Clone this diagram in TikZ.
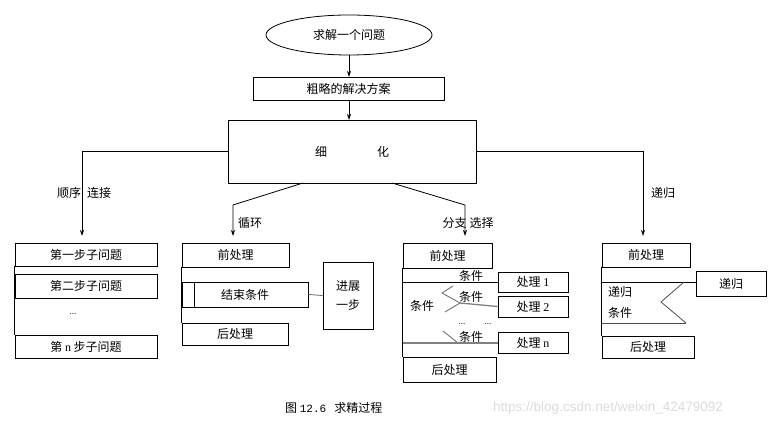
\documentclass[tikz,border=0pt]{standalone}
\usepackage{fontspec}
\setmainfont{Liberation Serif}
\newfontfamily\cjk{Noto Sans CJK SC}
\newfontfamily\wmfont{Liberation Sans}
\newfontfamily\capmono{Liberation Mono}
\usetikzlibrary{arrows.meta,shapes.geometric}
\begin{document}
\begin{tikzpicture}[x=1pt,y=-1pt,
  every node/.style={font=\cjk\fontsize{12}{15}\selectfont, inner sep=0pt},
  box/.style={draw, rectangle, line width=0.8pt},
  ln/.style={line width=0.8pt},
  gln/.style={line width=1.3pt, draw=black!50},
  arr/.style={line width=0.8pt, -{Stealth[length=6pt,width=4pt]}},
]
\useasboundingbox (0,0) rectangle (773,430);

% top
\node[draw, ellipse, line width=0.8pt, minimum width=166pt, minimum height=40pt] (prob) at (349,35) {求解一个问题};
\node[box, minimum width=191pt, minimum height=23pt] (plan) at (348.5,88.5) {粗略的解决方案};
\node[box, minimum width=248pt, minimum height=63pt] (refine) at (352,151.5) {细\hspace{50pt}化};
\coordinate (c1) at (349,55);
\coordinate (c2) at (349,77);
\coordinate (c3) at (349,100);
\coordinate (c4) at (349,120);
\draw[arr] (c1) -- (c2);
\draw[arr] (c3) -- (c4);

% branch arrows
\coordinate (seqtip) at (82,236);
\coordinate (loopA) at (303,183);
\coordinate (loopB) at (233,205);
\coordinate (looptip) at (233,236);
\coordinate (brA) at (392,183);
\coordinate (brB) at (465,205);
\coordinate (brtip) at (465,236);
\coordinate (rectip) at (643,236);
\draw[arr] (refine.west) -| (seqtip);
\draw[arr] (refine.east) -| (rectip);
\draw[arr] (loopA) -- (loopB) -- (looptip);
\draw[arr] (brA) -- (brB) -- (brtip);
\node (lseq) at (84,193) {顺序\hspace{6pt}连接};
\node (lrec) at (663,193) {递归};
\node (lloop) at (250,223) {循环};
\node (lbr) at (468,223) {分支\hspace{3pt}选择};

% sequence
\node[box, minimum width=142pt, minimum height=23pt] (s1) at (86,254.5) {第一步子问题};
\node[box, minimum width=142pt, minimum height=24pt] (s2) at (86,286) {第二步子问题};
\node (sdots) at (73,314) {{\rmfamily\fontsize{9}{10}\selectfont ...}};
\node[box, minimum width=142pt, minimum height=23pt] (sn) at (86,346.5) {第 {\rmfamily n} 步子问题};
\draw[ln] (s1.south west) -- (sn.north west);

% loop
\node[box, minimum width=107pt, minimum height=24pt] (lpre) at (235.5,255) {前处理};
\node[box, minimum width=126pt, minimum height=25pt] (lcond) at (245,294.5) {结束条件};
\node[box, minimum width=50pt, minimum height=67pt, align=center] (lstep) at (348,295.5) {进展\\[4pt]一步};
\node[box, minimum width=106pt, minimum height=22pt] (lpost) at (235,334) {后处理};
\coordinate (lin1) at (194,282);
\coordinate (lin2) at (194,307);
\draw[ln] (lin1) -- (lin2);
\draw[ln] (lpre.south west) -- (lpost.north west);
\draw[ln, draw=black!60] (lcond.east) -- (lstep.west);

% branch
\node[box, minimum width=89pt, minimum height=25pt] (bpre) at (447.5,255.5) {前处理};
\node[box, minimum width=70pt, minimum height=20pt] (bp1) at (533,282) {处理 {\rmfamily 1}};
\node[box, minimum width=70pt, minimum height=21pt] (bp2) at (533,306.5) {处理 {\rmfamily 2}};
\node[box, minimum width=70pt, minimum height=21pt] (bpn) at (533,342.5) {处理 {\rmfamily n}};
\node[box, minimum width=93pt, minimum height=25pt] (bpost) at (449.5,369.5) {后处理};
\draw[ln] (bpre.south west) -- (bpost.north west);
\coordinate (bt) at (403,282);
\draw[ln] (bt) -- (bp1.west);
\coordinate (bA) at (442,293);
\coordinate (bAu) at (453,286);
\coordinate (bB) at (460,303);
\coordinate (bC) at (445,312);
\draw[ln, draw=black!60] (bAu) -- (bA) -- (bB) -- (bC);
\draw[gln] (bB) -- (bp2.west);
\coordinate (bD) at (443,331);
\coordinate (bE) at (458,343);
\coordinate (bF) at (403,343);
\draw[ln, draw=black!60] (bD) -- (bE);
\draw[gln] (bF) -- (bp2.west |- bF);
\node (bc1) at (471,276) {条件};
\node (bc2) at (471,297) {条件};
\node (bc3) at (471,337) {条件};
\node (bc0) at (422,306) {条件};
\node (bd1) at (462,324) {{\rmfamily\fontsize{9}{10}\selectfont ...}};
\node (bd2) at (488,324) {{\rmfamily\fontsize{9}{10}\selectfont ...}};

% recursion
\node[box, minimum width=88pt, minimum height=24pt] (rpre) at (646,255) {前处理};
\node[box, minimum width=70pt, minimum height=25pt] (rrec) at (731,283.5) {递归};
\node[box, minimum width=92pt, minimum height=22pt] (rpost) at (648,347) {后处理};
\draw[ln] (rpre.south west) -- (rpost.north west);
\coordinate (rt) at (602,282);
\draw[ln] (rt) -- (rrec.west |- rt);
\coordinate (rz1) at (684,282);
\coordinate (rz2) at (661,302);
\coordinate (rz3) at (686,323);
\coordinate (rb) at (602,323);
\draw[ln, draw=black!70] (rz1) -- (rz2) -- (rz3);
\draw[ln, draw=black!70] (rb) -- (rz3);
\node (rl1) at (620,292) {递归};
\node (rl2) at (620,313) {条件};

% caption
\node[anchor=west] (cap) at (285,408) {图 {\capmono\fontsize{11}{12}\selectfont 12.6}\hspace{8pt}求精过程};
\node[anchor=west, text=black!14] (wm) at (493,408) {\wmfont\fontsize{13.5}{15}\selectfont https://blog.csdn.net/weixin\_42479092};
\end{tikzpicture}
\end{document}
